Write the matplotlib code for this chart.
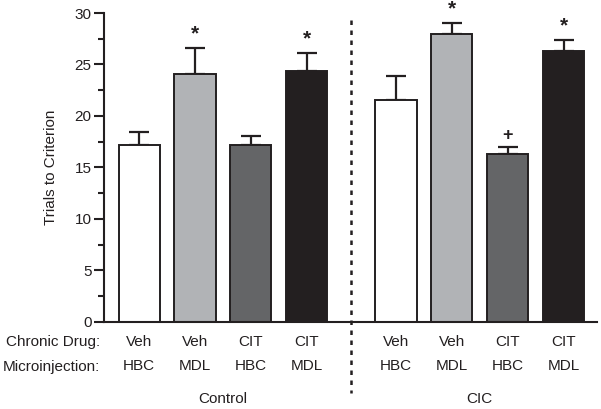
import matplotlib
matplotlib.use("Agg")
import matplotlib.pyplot as plt
import matplotlib.transforms as mtransforms
import numpy as np

plt.rcParams['font.family'] = ['Liberation Sans', 'DejaVu Sans']

# ---- data ----
means = [17.2, 24.1, 17.2, 24.4, 21.5, 28.0, 16.3, 26.3]
sems = [1.2, 2.5, 0.8, 1.7, 2.4, 1.0, 0.7, 1.1]
colors = ['#ffffff', '#b1b3b6', '#646567', '#231f20',
          '#ffffff', '#b1b3b6', '#646567', '#231f20']
chronic_drug = ['Veh', 'Veh', 'CIT', 'CIT', 'Veh', 'Veh', 'CIT', 'CIT']
microinjection = ['HBC', 'MDL', 'HBC', 'MDL', 'HBC', 'MDL', 'HBC', 'MDL']
marks = ['', '*', '', '*', '', '*', '+', '*']
groups = ['Control', 'CIC']

# ---- layout ----
W, H = 601, 409
FS = 11
fig = plt.figure(figsize=(W / 100, H / 100), dpi=100)
ax = fig.add_axes([104 / W, 1 - 321.7 / H, (597 - 104) / W, (321.7 - 13) / H])

x = np.array([0, 1, 2, 3, 4.6, 5.6, 6.6, 7.6])
ax.errorbar(x, means, yerr=[np.zeros(len(means)), sems], fmt='none',
            ecolor='#231f20', elinewidth=1.6, capsize=7, capthick=1.6, zorder=1)
ax.bar(x, means, width=0.74, color=colors, edgecolor='#231f20',
       linewidth=1.4, zorder=2)

for xi, m, s, mk in zip(x, means, sems, marks):
    if mk == '*':
        ax.text(xi, m + s + 0.45, mk, ha='center', va='bottom', fontsize=15,
                fontweight='bold', color='#231f20', clip_on=False)
    elif mk == '+':
        ax.text(xi, m + s + 0.3, mk, ha='center', va='bottom', fontsize=13,
                fontweight='bold', color='#231f20', clip_on=False)

ax.set_xlim(-0.63, 8.2)
ax.set_ylim(0, 30)
ax.set_yticks(np.arange(0, 31, 5))
ax.set_yticks(np.arange(2.5, 30, 5), minor=True)
ax.set_xticks([])
for sp in ['top', 'right']:
    ax.spines[sp].set_visible(False)
ax.spines['left'].set_linewidth(1.5)
ax.spines['bottom'].set_linewidth(1.5)
ax.spines['left'].set_color('#231f20')
ax.spines['bottom'].set_color('#231f20')
ax.tick_params(axis='y', which='major', length=7, width=1.5, labelsize=FS,
               color='#231f20', labelcolor='#231f20', pad=2)
ax.tick_params(axis='y', which='minor', length=4, width=1.5, color='#231f20')
ax.set_ylabel('Trials to Criterion', fontsize=FS, color='#231f20', labelpad=12)

# divider dotted line
trans = mtransforms.blended_transform_factory(ax.transData, fig.transFigure)
xdiv = 3.8
ax.plot([xdiv, xdiv], [1 - 20 / H, 1 - 393 / H], transform=trans,
        color='#231f20', linewidth=1.8, linestyle=(0, (1.8, 2.2)),
        clip_on=False)

# category labels
y1 = 1 - 342 / H
y2 = 1 - 366.5 / H
y3 = 1 - 399 / H
fig.text(100.5 / W, y1, 'Chronic Drug:', ha='right', va='center', fontsize=FS, color='#231f20')
fig.text(100.5 / W, y2, 'Microinjection:', ha='right', va='center', fontsize=FS, color='#231f20')
for xi, c, mi in zip(x, chronic_drug, microinjection):
    ax.text(xi, y1, c, transform=trans, ha='center', va='center', fontsize=FS, color='#231f20')
    ax.text(xi, y2, mi, transform=trans, ha='center', va='center', fontsize=FS, color='#231f20')
ax.text(x[:4].mean(), y3, groups[0], transform=trans, ha='center', va='center', fontsize=FS, color='#231f20')
ax.text(x[4:].mean(), y3, groups[1], transform=trans, ha='center', va='center', fontsize=FS, color='#231f20')

fig.savefig('out.png', dpi=100)
